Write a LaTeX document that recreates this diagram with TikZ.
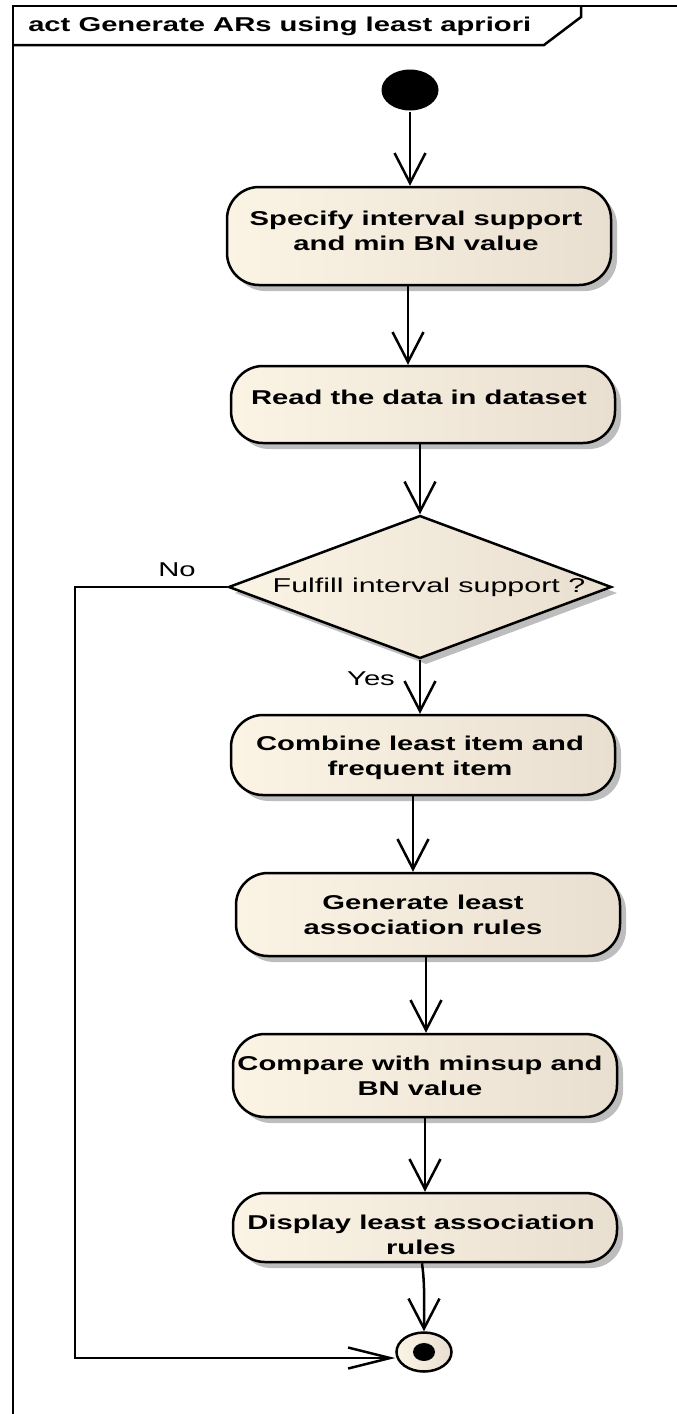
\documentclass[tikz,border=0pt]{standalone}
\usepackage{fontspec}
\usepackage{graphicx}
\setmainfont{Liberation Sans}
\usetikzlibrary{shapes.geometric,arrows.meta,shadows,calc}
\definecolor{boxL}{HTML}{FBF4E5}
\definecolor{boxR}{HTML}{E9DFD1}
\definecolor{shade}{HTML}{BDBDBD}
\newcommand{\wide}[1]{\scalebox{1.46}[1]{#1}}
\newcommand{\wider}[1]{\scalebox{1.52}[1]{#1}}
\begin{document}
\begin{tikzpicture}[x=1pt,y=-1pt,
  line width=2.5pt,
  actbox/.style={draw, rounded corners=32pt, minimum width=384pt, inner sep=0pt,
    left color=boxL, right color=boxR,
    drop shadow={shadow xshift=6pt, shadow yshift=-6pt, fill=shade, opacity=1}},
  decide/.style={diamond, draw, minimum width=383pt, minimum height=143pt, inner sep=0pt,
    left color=boxL, right color=boxR,
    drop shadow={shadow xshift=6pt, shadow yshift=-6pt, fill=shade, opacity=1}},
  boldtxt/.style={font=\fontsize{20}{24.5}\selectfont\bfseries, align=center, inner sep=0pt},
  plaintxt/.style={font=\fontsize{20}{24}\selectfont, inner sep=0pt},
  flow/.style={-{Straight Barb[length=30pt,width=31pt]}},
  flowin/.style={-{Straight Barb[length=42pt,width=21pt]}}
]
\useasboundingbox (0,0) rectangle (677,1414);

% diagram frame and its name tag
\draw (13,1414) -- (13,6) -- (677,6);
\draw (581,6) -- (581,17) -- (544,45) -- (13,45);
\node[boldtxt, anchor=west] (title) at (27,26) {\wide{act Generate ARs using least apriori}};

% initial node
\node[ellipse, fill=black, minimum width=57pt, minimum height=41pt, inner sep=0pt] (start) at (410,90) {};

% actions
\node[actbox, minimum height=98pt] (b1) at (419,236) {};
\node[boldtxt] (t1) at (416,231) {\wide{Specify interval support}\\\wide{and min BN value}};

\node[actbox, minimum height=77pt] (b2) at (423,404.5) {};
\node[boldtxt] (t2) at (419,397) {\wide{Read the data in dataset}};

\node[decide] (d) at (420,587) {};
\node[plaintxt] (dt) at (429,587) {\wider{Fulfill interval support ?}};

\node[actbox, minimum height=80pt] (b3) at (423,755) {};
\node[boldtxt] (t3) at (420,758) {\wide{Combine least item and}\\\wide{frequent item}};

\node[actbox, minimum height=83pt] (b4) at (428,914.5) {};
\node[boldtxt] (t4) at (423,915) {\wide{Generate least}\\\wide{association rules}};

\node[actbox, minimum height=83pt] (b5) at (425,1075.5) {};
\node[boldtxt] (t5) at (420,1076) {\wide{Compare with minsup and}\\\wide{BN value}};

\node[actbox, minimum height=69pt] (b6) at (425,1227.5) {};
\node[boldtxt] (t6) at (421,1235) {\wide{Display least association}\\\wide{rules}};

% final node
\node[ellipse, draw, minimum width=55pt, minimum height=39pt, inner sep=0pt,
      left color=boxL, right color=boxR] (fin) at (424,1352) {};
\fill (fin.center) ellipse [x radius=11, y radius=9];

% guard labels
\node[plaintxt] (no) at (177,570) {\wide{No}};
\node[plaintxt] (yes) at (371,679) {\wide{Yes}};

% control flows
\coordinate (k1) at ($(b1.south)+(-11,0)$);
\coordinate (k3) at ($(b3.south)+(-10,0)$);
\coordinate (k4) at ($(b4.south)+(-2,0)$);
\coordinate (k6) at ($(b6.south)+(-3,0)$);
\coordinate (nx) at (75,0);

\draw[flow] (start.south) -- (start.south |- b1.north);
\draw[flow] (k1) -- (k1 |- b2.north);
\draw[flow] (d.north |- b2.south) -- (d.north);
\draw[flow] (d.south) -- (d.south |- b3.north);
\draw[flow] (k3) -- (k3 |- b4.north);
\draw[flow] (k4) -- (k4 |- b5.north);
\draw[flow] (b5.south) -- (b5.south |- b6.north);
\draw[flow] (k6) .. controls +(3,22) and +(0,-28) .. (fin.north);
\draw[flowin] (d.west) -| ($(nx |- fin.west)+(0,6)$) -- ($(fin.west)+(0,6)$);
\end{tikzpicture}
\end{document}
